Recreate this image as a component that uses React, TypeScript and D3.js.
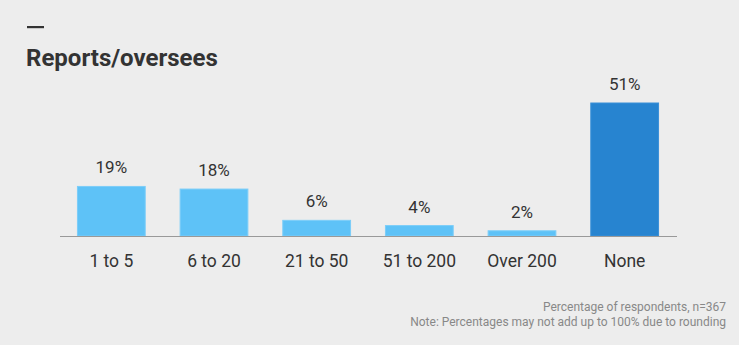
import React from "react";
import * as d3 from "d3";

const categories = ["1 to 5", "6 to 20", "21 to 50", "51 to 200", "Over 200", "None"];
const values = [19, 18, 6, 4, 2, 51];
const highlight = [false, false, false, false, false, true];
const title = "Reports/oversees";
const notes = ["Percentage of respondents, n=367", "Note: Percentages may not add up to 100% due to rounding"];

const W = 739;
const H = 345;

export default function App() {
  const x = d3.scaleBand<string>().domain(categories).range([60, 676]).paddingInner(0.34).paddingOuter(0.17);
  const y = d3.scaleLinear().domain([0, 51]).range([236, 103]);
  const font = "Roboto, 'Noto Sans', sans-serif";
  return (
    <svg width={W} height={H} style={{ position: "fixed", left: 0, top: 0, background: "#ededed" }} fontFamily={font}>
      <rect x={0} y={0} width={W} height={H} fill="#ededed" />
      <rect x={27} y={26} width={17} height={2.2} fill="#333" />
      <text x={26} y={66} fontSize={24} fontWeight={700} fill="#333">{title}</text>
      {categories.map((c, i) => {
        const x0 = x(c)!;
        const bw = x.bandwidth();
        const yt = y(values[i]);
        return (
          <g key={c}>
            <rect x={x0} y={yt} width={bw} height={236 - yt} fill={highlight[i] ? "#2784d0" : "#5ec2f7"} stroke={highlight[i] ? "#3a90d8" : "#7ccdf8"} strokeWidth={1} />
            <text x={x0 + bw / 2} y={yt - 13} textAnchor="middle" fontSize={17} fill="#333">{values[i]}%</text>
            <text x={x0 + bw / 2} y={267} textAnchor="middle" fontSize={17.5} fill="#333">{c}</text>
          </g>
        );
      })}
      <line x1={60} x2={677} y1={236.5} y2={236.5} stroke="#999" strokeWidth={1.2} />
      {notes.map((n, i) => (
        <text key={i} x={726} y={311 + i * 15} textAnchor="end" fontSize={12} fill="#888">{n}</text>
      ))}
    </svg>
  );
}
